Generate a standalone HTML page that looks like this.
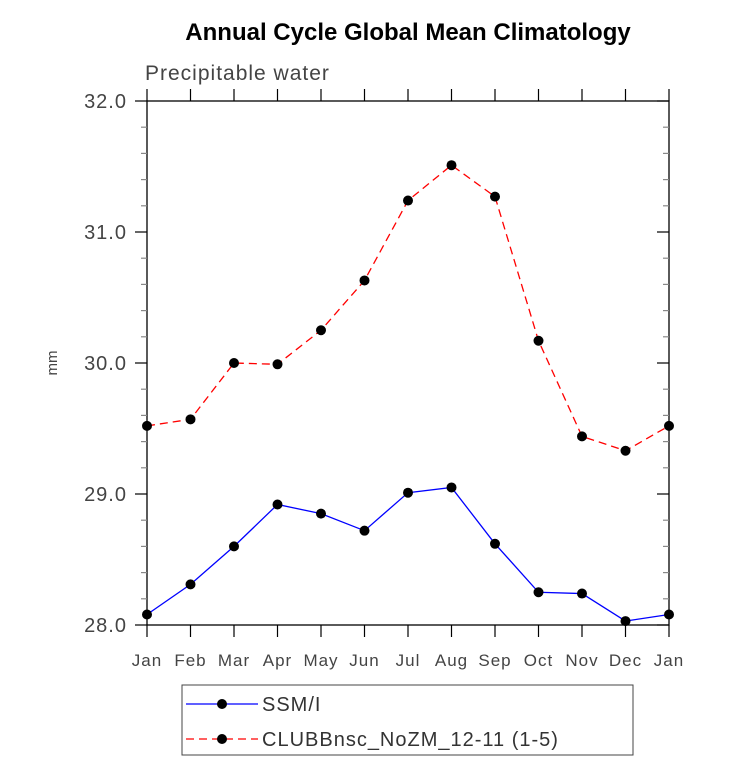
<!DOCTYPE html>
<html><head><meta charset="utf-8"><style>
body{margin:0;background:#fff;}
svg text{font-family:"Liberation Sans",sans-serif;}
</style></head><body>
<svg id="chart" width="733" height="761" xmlns="http://www.w3.org/2000/svg">
<text x="408" y="40" text-anchor="middle" font-size="24" font-weight="bold">Annual Cycle Global Mean Climatology</text>
<text x="145" y="80" font-size="21" fill="#444" letter-spacing="1">Precipitable water</text>
<text x="57" y="363" font-size="15" fill="#444" text-anchor="middle" transform="rotate(-90 57 363)">mm</text>
<g id="axes"></g>
<g id="series"></g>
<g>
<rect x="182" y="685" width="451" height="70" fill="none" stroke="#444" stroke-width="1"/>
<line x1="186" y1="704" x2="258" y2="704" stroke="#0000ff" stroke-width="1.3"/>
<circle cx="222" cy="704" r="5" fill="#000"/>
<text x="262" y="711" font-size="20" fill="#333" letter-spacing="1">SSM/I</text>
<line x1="186" y1="739" x2="258" y2="739" stroke="#ff0000" stroke-width="1.3" stroke-dasharray="8,5"/>
<circle cx="222" cy="739" r="5" fill="#000"/>
<text x="262" y="746" font-size="20" fill="#333" letter-spacing="1">CLUBBnsc_NoZM_12-11 (1-5)</text>
</g>
</svg>
<script>
const months=["Jan","Feb","Mar","Apr","May","Jun","Jul","Aug","Sep","Oct","Nov","Dec","Jan"];
const ssmi=[28.08,28.31,28.60,28.92,28.85,28.72,29.01,29.05,28.62,28.25,28.24,28.03,28.08];
const clubb=[29.52,29.57,30.00,29.99,30.25,30.63,31.24,31.51,31.27,30.17,29.44,29.33,29.52];
const yTicks=["28.0","29.0","30.0","31.0","32.0"];
const X0=147,X1=669,Y0=625,Y1=101,YMIN=28,YMAX=32;
const NS="http://www.w3.org/2000/svg";
const xs=i=>X0+(X1-X0)*i/(months.length-1);
const ys=v=>Y0-(v-YMIN)/(YMAX-YMIN)*(Y0-Y1);
function mk(p,t,a){const e=document.createElementNS(NS,t);for(const k in a)e.setAttribute(k,a[k]);p.appendChild(e);return e;}
const ax=document.getElementById('axes');
const frame=mk(ax,'rect',{x:X0,y:Y1,width:X1-X0,height:Y0-Y1,fill:'none',stroke:'#000','stroke-width':1.3});


for(let v=YMIN;v<=YMAX+1e-6;v+=0.2){
  const y=ys(v);const maj=Math.abs(v-Math.round(v))<1e-6;const L=maj?12:6;
  mk(ax,'line',{x1:X0-L,y1:y,x2:X0,y2:y,stroke:maj?'#000':'#888','stroke-width':1.2});
  mk(ax,'line',{x1:X1,y1:y,x2:X1+0,y2:y,stroke:'#000'});
  mk(ax,'line',{x1:X1-L,y1:y,x2:X1,y2:y,stroke:maj?'#000':'#888','stroke-width':1.2});
}
yTicks.forEach(t=>{
  const tx=mk(ax,'text',{x:X0-20,y:ys(parseFloat(t))+7,'text-anchor':'end','font-size':20,fill:'#444','letter-spacing':1});
  tx.textContent=t;
  
  
});
months.forEach((m,i)=>{
  const x=xs(i);
  mk(ax,'line',{x1:x,y1:Y0,x2:x,y2:Y0+12,stroke:'#000','stroke-width':1.2});
  mk(ax,'line',{x1:x,y1:Y1,x2:x,y2:Y1-12,stroke:'#000','stroke-width':1.2});
  const tx=mk(ax,'text',{x:x,y:Y0+41,'text-anchor':'middle','font-size':17,fill:'#444','letter-spacing':1});
  tx.textContent=m;
  
  
});
const sg=document.getElementById('series');
function drawSeries(vals,color,dash,name){
  const g=mk(sg,'g',{});
  
  
  const pts=vals.map((v,i)=>xs(i)+','+ys(v)).join(' ');
  const a={points:pts,fill:'none',stroke:color,'stroke-width':1.3};
  if(dash)a['stroke-dasharray']=dash;
  mk(g,'polyline',a);
  vals.forEach((v,i)=>{
    const c=mk(g,'circle',{cx:xs(i),cy:ys(v),r:5,fill:'#000'});
    
    
  });
}
drawSeries(clubb,'#ff0000','8,5','clubb-series');
drawSeries(ssmi,'#0000ff',null,'ssmi-series');
</script>
</body></html>
